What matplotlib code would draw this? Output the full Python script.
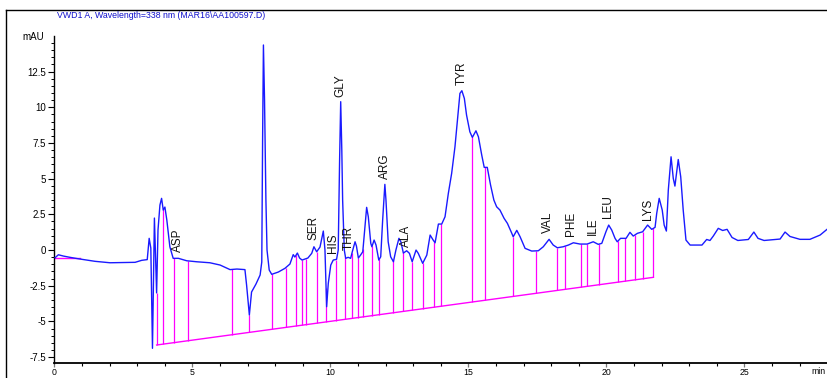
import numpy as np
import matplotlib
matplotlib.use("Agg")
import matplotlib.pyplot as plt
from matplotlib.lines import Line2D
from matplotlib.ticker import MultipleLocator

plt.rcParams['font.family'] = ['Liberation Sans', 'DejaVu Sans']

# ---- chromatogram signal (time in min, absorbance in mAU) ----
time_min = [0.02, 0.14, 0.32, 0.56, 0.86, 1.17, 1.47, 2.01, 2.92, 3.16, 3.36, 3.43, 3.49, 3.55, 3.62,
            3.70, 3.75, 3.82, 3.88, 3.94, 4.00, 4.07, 4.18, 4.30, 4.49, 4.79, 5.15, 5.63, 6.00, 6.36,
            6.61, 6.90, 6.96, 7.06, 7.14, 7.30, 7.45, 7.51, 7.54, 7.57, 7.61, 7.66, 7.70, 7.78, 7.87,
            8.11, 8.35, 8.53, 8.65, 8.71, 8.80, 8.88, 8.97, 9.18, 9.32, 9.40, 9.50, 9.62, 9.74, 9.80,
            9.86, 9.92, 10.01, 10.10, 10.22, 10.28, 10.33, 10.37, 10.41, 10.44, 10.50, 10.55, 10.64,
            10.73, 10.79, 10.89, 10.94, 11.01, 11.09, 11.17, 11.25, 11.31, 11.37, 11.46, 11.50, 11.58,
            11.65, 11.75, 11.82, 11.89, 11.97, 12.01, 12.09, 12.18, 12.28, 12.37, 12.48, 12.55, 12.64,
            12.76, 12.86, 12.96, 13.10, 13.18, 13.34, 13.49, 13.61, 13.72, 13.79, 13.91, 14.03, 14.15,
            14.27, 14.39, 14.51, 14.61, 14.69, 14.76, 14.85, 14.93, 15.05, 15.14, 15.27, 15.36, 15.48,
            15.57, 15.68, 15.80, 15.92, 16.02, 16.14, 16.29, 16.41, 16.57, 16.62, 16.75, 16.87, 17.05,
            17.29, 17.53, 17.71, 17.92, 18.07, 18.22, 18.43, 18.62, 18.80, 19.04, 19.30, 19.52, 19.70,
            19.83, 19.98, 20.08, 20.19, 20.31, 20.39, 20.51, 20.71, 20.85, 20.97, 21.12, 21.31, 21.49,
            21.64, 21.76, 21.82, 21.91, 22.02, 22.09, 22.17, 22.24, 22.34, 22.42, 22.48, 22.60, 22.69,
            22.78, 22.88, 23.03, 23.46, 23.63, 23.75, 23.87, 24.05, 24.21, 24.37, 24.55, 24.76, 25.14,
            25.34, 25.49, 25.71, 26.29, 26.47, 26.65, 27.01, 27.37, 27.74, 27.99]
signal_mau = [-0.54, -0.33, -0.42, -0.51, -0.61, -0.70, -0.79, -0.89, -0.86, -0.72, -0.67, 0.82, 0.14, -6.88, 2.24,
              -3.00, 1.40, 3.15, 3.62, 2.80, 3.01, 2.10, 0.23, -0.58, -0.58, -0.75, -0.82, -0.89, -1.05, -1.37,
              -1.33, -1.37, -2.45, -4.55, -2.94, -2.38, -1.75, -0.84, 7.70, 14.36, 10.50, 3.50, 0.00, -1.40, -1.70,
              -1.54, -1.28, -0.98, -0.32, -0.49, -0.21, -0.56, -0.70, -0.56, -0.23, 0.23, -0.12, 0.21, 1.33, 0.00,
              -3.97, -2.33, -1.05, -0.70, -0.65, 0.00, 6.30, 10.39, 7.00, 3.50, 0.00, -0.58, -0.51,
              -0.58, -0.12, 0.58, 0.28, -0.56, -0.35, -0.12, 1.63, 2.99, 2.33, 0.47, 0.23, 0.70,
              0.35, -0.70, -0.47, 2.10, 4.60, 3.50, 0.58, -0.47, -0.82, 0.00, 0.82, 0.58, -0.21,
              -0.05, -0.23, -0.82, 0.00, -0.23, -0.93, -0.35, 1.05, 0.70, 0.51, 1.82, 1.82, 2.33,
              3.97, 5.37, 7.23, 9.33, 10.97, 11.16, 10.62, 9.45, 8.28, 7.89, 8.35, 7.93, 6.65,
              5.79, 5.79, 4.55, 3.50, 3.03, 2.80, 2.22, 1.87, 1.17, 0.93, 1.38, 0.93, 0.12,
              -0.07, -0.05, 0.23, 0.75, 0.35, 0.16, 0.23, 0.35, 0.51, 0.42, 0.42, 0.58, 0.40,
              0.47, 1.28, 1.75, 1.40, 0.82, 0.58, 0.82, 0.82, 1.24, 0.98, 1.17, 1.28, 1.75,
              1.45, 1.59, 2.57, 3.62, 2.80, 1.75, 1.33, 4.20, 6.53, 5.02, 4.48, 6.34, 5.13,
              2.80, 0.70, 0.35, 0.35, 0.74, 0.67, 0.98, 1.52, 1.37, 1.45, 0.88, 0.67, 0.74,
              1.26, 0.82, 0.67, 0.77, 1.26, 0.95, 0.75, 0.75, 1.05, 1.45]

# ---- integration baseline and drop lines ----
baseline_t = [3.70, 21.70]
baseline_v = [-6.65, -1.91]
pre_base_t = [0.0, 0.92]
pre_base_v = [-0.56, -0.56]
drop_times = [3.70, 3.93, 4.34, 4.82, 6.43, 7.06, 7.89, 8.38, 8.76, 8.98, 9.11, 9.50, 9.84, 10.19,
              10.54, 10.78, 11.01, 11.18, 11.49, 11.77, 12.25, 12.63, 12.96, 13.34, 13.76, 13.99,
              15.14, 15.59, 16.62, 17.43, 18.22, 18.51, 19.08, 19.30, 19.74, 20.41, 20.66, 21.02,
              21.31, 21.70]

# ---- peak labels ----
peak_names = ["ASP", "SER", "HIS", "THR", "GLY", "ARG", "ALA", "TYR", "VAL", "PHE", "ILE", "LEU", "LYS"]
peak_times = [4.49, 9.40, 10.10, 10.68, 10.37, 11.97, 12.74, 14.75, 17.89, 18.70, 19.52, 20.07, 21.49]
peak_label_v = [-0.14, 0.70, -0.21, 0.00, 10.71, 4.97, 0.21, 11.55, 1.19, 0.98, 1.05, 2.24, 2.10]

title = r"VWD1 A, Wavelength=338 nm (MAR16\AA100597.D)"

W, H = 827, 378
fig = plt.figure(figsize=(W / 100, H / 100), dpi=100)
fig.patch.set_facecolor("white")
ax = fig.add_axes([54.5 / W, 15 / H, 1 - 54.5 / W, (363 - 36) / H])
ax.set_xlim(0, 27.99)
ax.set_ylim(-7.91, 14.99)

magenta = "#ff00ff"
blue = "#1a1aff"

# baseline
ax.plot(pre_base_t, pre_base_v, color=magenta, lw=1.0, zorder=2)
ax.plot(baseline_t, baseline_v, color=magenta, lw=1.0, zorder=2)
slope = (baseline_v[1] - baseline_v[0]) / (baseline_t[1] - baseline_t[0])
dt = np.array(drop_times)
bottoms = baseline_v[0] + slope * (dt - baseline_t[0])
tops = np.interp(dt, time_min, signal_mau)
ax.vlines(dt, bottoms, tops, color=magenta, lw=0.9, zorder=2)

# signal
ax.plot(time_min, signal_mau, color=blue, lw=1.0, zorder=3)

# labels
for n, t, v in zip(peak_names, peak_times, peak_label_v):
    ax.text(t, v, n, rotation=90, ha="center", va="bottom", fontsize=8.5, color="#111111", zorder=4)

# axes styling
for s in ["top", "right"]:
    ax.spines[s].set_visible(False)
ax.spines["left"].set_color("black")
ax.spines["left"].set_linewidth(1.0)
ax.spines["bottom"].set_color("black")
ax.spines["bottom"].set_linewidth(1.3)
ax.yaxis.set_major_locator(MultipleLocator(2.5))
ax.yaxis.set_minor_locator(MultipleLocator(0.5))
ax.xaxis.set_major_locator(MultipleLocator(5))
ax.xaxis.set_minor_locator(MultipleLocator(1))
ax.set_yticks([-7.5, -5, -2.5, 0, 2.5, 5, 7.5, 10, 12.5])
ax.set_yticklabels(["-7.5", "-5", "-2.5", "0", "2.5", "5", "7.5", "10", "12.5"])
ax.tick_params(axis="y", which="major", direction="out", length=4.5, width=0.8, labelsize=7, pad=1.5)
ax.tick_params(axis="y", which="minor", direction="out", length=2.5, width=0.7)
ax.tick_params(axis="x", which="major", direction="out", length=3, width=0.9, labelsize=6.3, pad=0.3, color="#777777")
ax.tick_params(axis="x", which="minor", direction="out", length=2.5, width=0.8)

fig.text(22 / W, 1 - 37 / H, "mAU", fontsize=7, va="center", ha="left")
fig.text(826 / W, 1 - 372 / H, "min", fontsize=6.3, va="center", ha="right")
fig.text(57 / W, 1 - 16 / H, title, fontsize=6.3, color="#1010cc", va="center", ha="left")

# outer frame (left and top edges)
fig.add_artist(Line2D([6 / W, 6 / W], [0, 1 - 10 / H], transform=fig.transFigure, color="black", lw=1.0))
fig.add_artist(Line2D([6 / W, 1], [1 - 10 / H, 1 - 10 / H], transform=fig.transFigure, color="black", lw=1.0))

fig.savefig("out.png", dpi=100)
